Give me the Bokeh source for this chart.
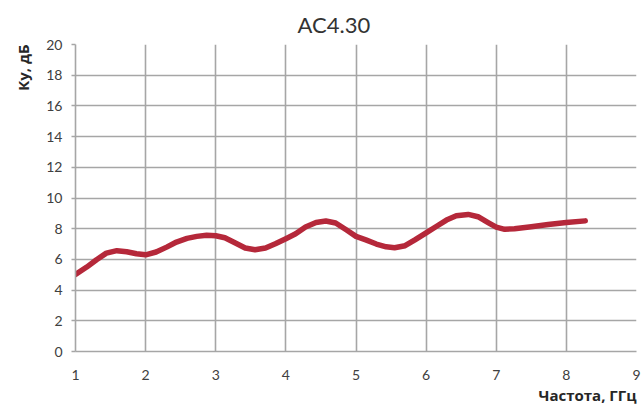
from bokeh.plotting import figure
from bokeh.models import Range1d, FixedTicker, ColumnDataSource, Title
from bokeh.embed import file_html
from bokeh.resources import INLINE

title_text = "AC4.30"
x_label = "Частота, ГГц"
y_label = "Ку, дБ"

freq = [1.0, 1.16, 1.3, 1.44, 1.59, 1.73, 1.87, 2.0, 2.15, 2.3, 2.44, 2.59, 2.73, 2.87,
        3.0, 3.13, 3.28, 3.42, 3.56, 3.71, 3.85, 4.0, 4.14, 4.28, 4.43, 4.57, 4.71, 4.86,
        5.0, 5.14, 5.29, 5.43, 5.55, 5.7, 5.84, 6.0, 6.15, 6.29, 6.43, 6.6, 6.74, 6.89,
        7.0, 7.12, 7.26, 7.5, 7.74, 8.0, 8.27]
gain = [5.02, 5.5, 5.98, 6.41, 6.57, 6.5, 6.37, 6.3, 6.48, 6.8, 7.13, 7.37, 7.5, 7.57,
        7.54, 7.41, 7.07, 6.74, 6.63, 6.74, 7.02, 7.35, 7.67, 8.11, 8.41, 8.5, 8.37, 7.93,
        7.5, 7.27, 7.0, 6.82, 6.76, 6.89, 7.27, 7.73, 8.16, 8.56, 8.84, 8.93, 8.78, 8.38,
        8.1, 7.96, 8.0, 8.13, 8.27, 8.4, 8.51]

x_ticks = [1, 2, 3, 4, 5, 6, 7, 8, 9]
y_ticks = [0, 2, 4, 6, 8, 10, 12, 14, 16, 18, 20]

src = ColumnDataSource(data=dict(x=freq, y=gain))

p = figure(width=642, height=405, output_backend="svg", toolbar_location=None,
           x_range=Range1d(1, 9), y_range=Range1d(0, 20),
           min_border_left=75, min_border_right=6, min_border_top=44, min_border_bottom=54)

p.title.text = title_text
p.title.align = "left"
p.title.offset = 222
p.title.standoff = 13
p.title.text_font = "Lato"
p.title.text_font_size = "22px"
p.title.text_font_style = "normal"
p.title.text_color = "#333333"

p.outline_line_color = None
p.background_fill_color = "white"
p.border_fill_color = "white"

grid_color = "#A6A6A6"
for g in (p.xgrid, p.ygrid):
    g.grid_line_color = grid_color
    g.grid_line_width = 1.6
p.xaxis.ticker = FixedTicker(ticks=x_ticks)
p.yaxis.ticker = FixedTicker(ticks=y_ticks)
p.xgrid.ticker = FixedTicker(ticks=x_ticks)
p.ygrid.ticker = FixedTicker(ticks=y_ticks)

for ax in (p.xaxis[0], p.yaxis[0]):
    ax.axis_line_color = grid_color
    ax.axis_line_width = 1.6
    ax.minor_tick_line_color = None
    ax.major_label_text_font = "Lato"
    ax.major_label_text_font_size = "14px"
    ax.major_label_text_color = "#404040"

p.xaxis.major_tick_line_color = None
p.xaxis.major_label_standoff = 12

p.yaxis.major_tick_line_color = grid_color
p.yaxis.major_tick_line_width = 1.6
p.yaxis.major_tick_out = 4
p.yaxis.major_tick_in = 0
p.yaxis.major_label_standoff = 9

label_style = dict(text_font="Open Sans", text_font_size="15px", text_font_style="bold",
                   text_color="#262626", align="right")
p.add_layout(Title(text=x_label, standoff=1, **label_style), "below")
p.add_layout(Title(text=y_label, standoff=17, vertical_align="top", **label_style), "left")

p.line("x", "y", source=src, line_color="#B5283A", line_width=5.5,
       line_join="round", line_cap="round")

open("out.html", "w").write(file_html(p, INLINE))
